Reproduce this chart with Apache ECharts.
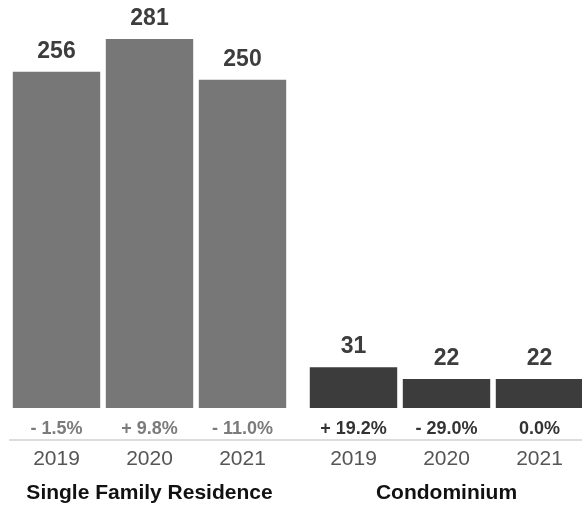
<!DOCTYPE html>
<html>
<head>
<meta charset="utf-8">
<script src="https://cdn.jsdelivr.net/npm/echarts@6/dist/echarts.min.js"></script>
<style>
html,body{margin:0;padding:0;background:#fff;}
#main{width:582px;height:506px;}
</style>
</head>
<body>
<div id="main"></div>
<script>
// data
var years = ['2019', '2020', '2021'];
var groupNames = ['Single Family Residence', 'Condominium'];
var sfrValues = [256, 281, 250];
var condoValues = [31, 22, 22];
var sfrChange = ['- 1.5%', '+ 9.8%', '- 11.0%'];
var condoChange = ['+ 19.2%', '- 29.0%', '0.0%'];

var FONT = '"Liberation Sans", Arial, sans-serif';
var baseY = 408;      // bar base
var axisOffset = 32;  // axis line sits below the percent row
var grids = [{left: 10, width: 279}, {left: 307, width: 279}];

var chart = echarts.init(document.getElementById('main'));

function pctAxis(gi, labels, color) {
    return {
        type: 'category', gridIndex: gi, position: 'bottom', offset: 0,
        data: labels,
        axisLine: {show: false}, axisTick: {show: false},
        axisLabel: {margin: 12, color: color, fontSize: 18, fontWeight: 'bold', fontFamily: FONT}
    };
}
function yearAxis(gi, name) {
    return {
        type: 'category', gridIndex: gi, position: 'bottom', offset: axisOffset,
        data: years,
        name: name, nameLocation: 'middle', nameGap: 43,
        nameTextStyle: {color: '#111', fontSize: 21, fontWeight: 'bold', fontFamily: FONT},
        axisLine: {lineStyle: {color: '#dcdcdc', width: 2}},
        axisTick: {alignWithLabel: true, length: 5, lineStyle: {color: '#dcdcdc', width: 1.5}},
        axisLabel: {margin: 9, color: '#555', fontSize: 21, fontFamily: FONT}
    };
}
function valAxis(gi) {
    return {type: 'value', gridIndex: gi, min: 0, max: 300, show: false, splitLine: {show: false}};
}
function barSeries(xi, yi, values, color) {
    return {
        type: 'bar', xAxisIndex: xi, yAxisIndex: yi,
        data: values, barCategoryGap: '6%',
        itemStyle: {color: color},
        label: {show: true, position: 'top', distance: 9, color: '#3d3d3d', fontSize: 23, fontWeight: 'bold', fontFamily: FONT},
        silent: true
    };
}

var option = {
    animation: false,
    grid: grids.map(function (g) {
        return {left: g.left, width: g.width, top: 14, bottom: 506 - baseY, outerBoundsMode: 'none', containLabel: false};
    }),
    xAxis: [
        pctAxis(0, sfrChange, '#7b7b7b'),
        yearAxis(0, groupNames[0]),
        pctAxis(1, condoChange, '#333'),
        yearAxis(1, groupNames[1])
    ],
    yAxis: [valAxis(0), valAxis(1)],
    series: [
        barSeries(1, 0, sfrValues, '#777777'),
        barSeries(3, 1, condoValues, '#3c3c3c')
    ],
    // join the two axis lines across the gap between the groups
    graphic: [{
        type: 'line', silent: true,
        shape: {x1: grids[0].left + grids[0].width - 1, y1: baseY + axisOffset, x2: grids[1].left + 1, y2: baseY + axisOffset},
        style: {stroke: '#dcdcdc', lineWidth: 2}
    }]
};
chart.setOption(option);
</script>
</body>
</html>
